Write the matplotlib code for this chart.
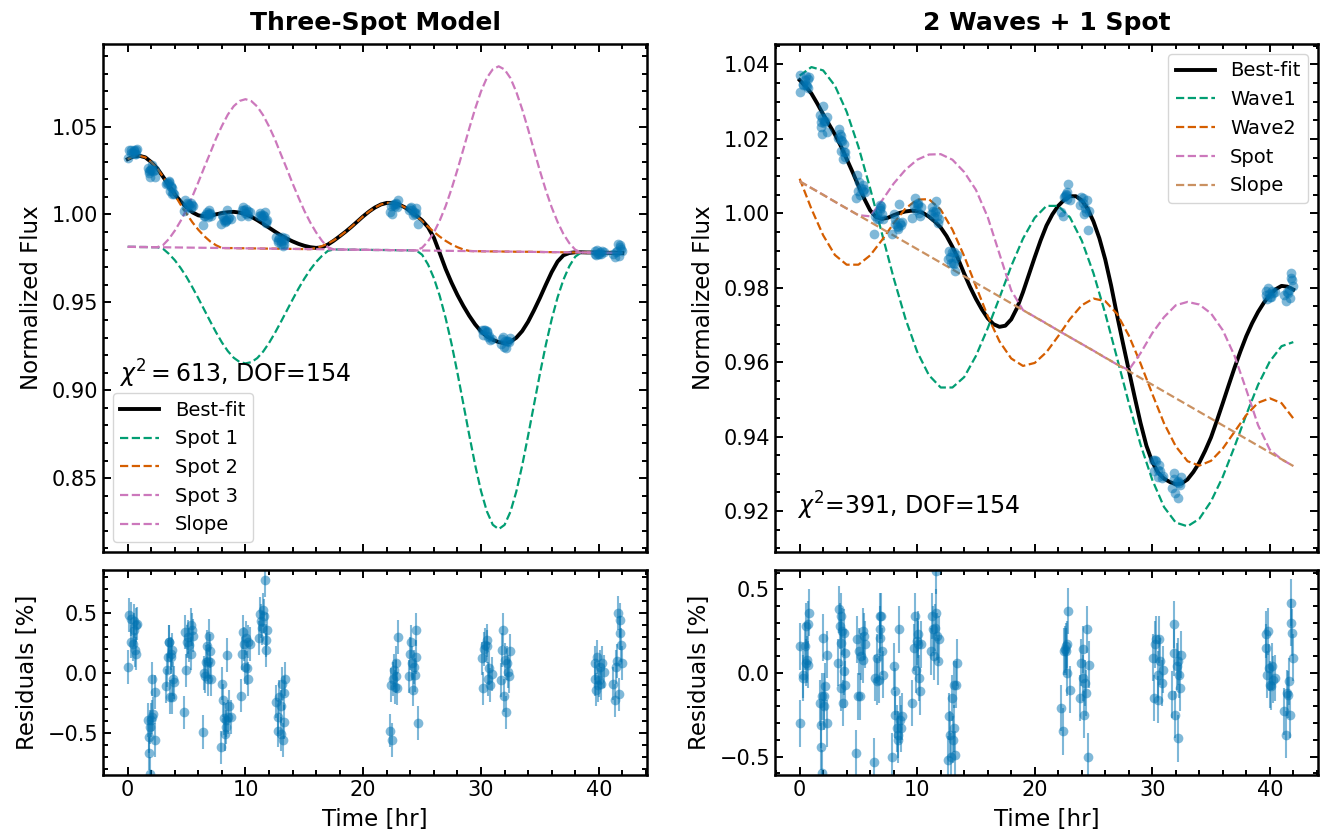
import numpy as np
import matplotlib
matplotlib.use("Agg")
import matplotlib.pyplot as plt
from matplotlib.ticker import AutoMinorLocator

# colours (seaborn "colorblind")
BLUE = "#0173b2"
GREEN = "#029e73"
ORANGE = "#d55e00"
PINK = "#cc78bc"
BROWN = "#ca9161"

# model curves: sharp ones read every half hour, broad waves every hour
fine_time = np.arange(0, 42.5, 0.5)
hour_time = np.arange(0, 43)
slope_time = [0, 42]

# ---- Three-Spot Model (left), half-hour grid ----
fit3_best = [
    1.0315, 1.0331, 1.0334, 1.0325, 1.0298, 1.0263, 1.0215, 1.0166, 1.0114, 1.0074,
    1.0040, 1.0012, 0.9995, 0.9990, 0.9993, 1.0001, 1.0008, 1.0013, 1.0015, 1.0011,
    1.0002, 0.9987, 0.9968, 0.9947, 0.9925, 0.9903, 0.9882, 0.9863, 0.9847, 0.9833,
    0.9822, 0.9814, 0.9810, 0.9813, 0.9829, 0.9851, 0.9876, 0.9902, 0.9930, 0.9960,
    0.9990, 1.0017, 1.0040, 1.0057, 1.0066, 1.0066, 1.0058, 1.0042, 1.0020, 0.9994,
    0.9966, 0.9928, 0.9868, 0.9780, 0.9690, 0.9612, 0.9542, 0.9480, 0.9424, 0.9375,
    0.9335, 0.9306, 0.9287, 0.9274, 0.9268, 0.9276, 0.9299, 0.9337, 0.9390, 0.9455,
    0.9525, 0.9600, 0.9672, 0.9732, 0.9768, 0.9781, 0.9785, 0.9785, 0.9784, 0.9784,
    0.9783, 0.9783, 0.9782, 0.9782, 0.9781]
fit3_spot1 = [
    0.9816, 0.9816, 0.9815, 0.9815, 0.9814, 0.9814, 0.9805, 0.9776, 0.9740, 0.9695,
    0.9644, 0.9585, 0.9523, 0.9458, 0.9393, 0.9330, 0.9272, 0.9223, 0.9185, 0.9161,
    0.9153, 0.9160, 0.9183, 0.9220, 0.9269, 0.9326, 0.9388, 0.9452, 0.9516, 0.9578,
    0.9635, 0.9686, 0.9730, 0.9765, 0.9793, 0.9801, 0.9801, 0.9800, 0.9800, 0.9800,
    0.9799, 0.9799, 0.9798, 0.9798, 0.9798, 0.9797, 0.9797, 0.9796, 0.9796, 0.9796,
    0.9771, 0.9716, 0.9638, 0.9536, 0.9410, 0.9264, 0.9099, 0.8923, 0.8746, 0.8576,
    0.8427, 0.8311, 0.8235, 0.8210, 0.8234, 0.8309, 0.8424, 0.8573, 0.8742, 0.8918,
    0.9093, 0.9257, 0.9403, 0.9528, 0.9629, 0.9706, 0.9760, 0.9784, 0.9784, 0.9784,
    0.9783, 0.9783, 0.9782, 0.9782, 0.9781]
fit3_spot2 = [
    1.0315, 1.0331, 1.0334, 1.0325, 1.0298, 1.0263, 1.0215, 1.0166, 1.0111, 1.0055,
    1.0004, 0.9955, 0.9913, 0.9877, 0.9847, 0.9825, 0.9809, 0.9809, 0.9809, 0.9808,
    0.9808, 0.9807, 0.9807, 0.9806, 0.9806, 0.9806, 0.9805, 0.9805, 0.9804, 0.9804,
    0.9803, 0.9803, 0.9810, 0.9820, 0.9835, 0.9853, 0.9876, 0.9902, 0.9930, 0.9960,
    0.9990, 1.0017, 1.0040, 1.0057, 1.0066, 1.0066, 1.0058, 1.0042, 1.0019, 0.9992,
    0.9962, 0.9931, 0.9901, 0.9874, 0.9850, 0.9830, 0.9814, 0.9801, 0.9793, 0.9791,
    0.9791, 0.9790, 0.9790, 0.9790, 0.9789, 0.9789, 0.9788, 0.9788, 0.9788, 0.9787,
    0.9787, 0.9786, 0.9786, 0.9786, 0.9785, 0.9785, 0.9784, 0.9784, 0.9784, 0.9783,
    0.9783, 0.9782, 0.9782, 0.9782, 0.9781]
fit3_spot3 = [
    0.9816, 0.9816, 0.9815, 0.9815, 0.9814, 0.9814, 0.9826, 0.9861, 0.9908, 0.9964,
    1.0030, 1.0104, 1.0184, 1.0268, 1.0349, 1.0432, 1.0504, 1.0568, 1.0616, 1.0646,
    1.0656, 1.0645, 1.0614, 1.0565, 1.0501, 1.0428, 1.0344, 1.0262, 1.0177, 1.0097,
    1.0021, 0.9955, 0.9898, 0.9850, 0.9814, 0.9801, 0.9801, 0.9800, 0.9800, 0.9800,
    0.9799, 0.9799, 0.9798, 0.9798, 0.9798, 0.9797, 0.9797, 0.9796, 0.9796, 0.9796,
    0.9811, 0.9847, 0.9898, 0.9966, 1.0048, 1.0146, 1.0255, 1.0371, 1.0489, 1.0601,
    1.0700, 1.0778, 1.0826, 1.0843, 1.0825, 1.0776, 1.0697, 1.0598, 1.0485, 1.0366,
    1.0249, 1.0139, 1.0041, 0.9958, 0.9889, 0.9837, 0.9800, 0.9784, 0.9784, 0.9784,
    0.9783, 0.9783, 0.9782, 0.9782, 0.9781]
fit3_slope = [0.9816, 0.9781]

# ---- 2 Waves + 1 Spot (right) ----
fitw_best = [  # half-hour grid
    1.0358, 1.0341, 1.0322, 1.0295, 1.0266, 1.0239, 1.0212, 1.0181, 1.0146, 1.0111,
    1.0074, 1.0039, 1.0008, 0.9990, 0.9985, 0.9988, 0.9995, 1.0001, 1.0005, 1.0007,
    1.0006, 1.0001, 0.9991, 0.9978, 0.9962, 0.9939, 0.9910, 0.9876, 0.9838, 0.9802,
    0.9770, 0.9742, 0.9718, 0.9702, 0.9695, 0.9698, 0.9715, 0.9746, 0.9788, 0.9835,
    0.9882, 0.9927, 0.9967, 0.9997, 1.0020, 1.0036, 1.0046, 1.0046, 1.0035, 1.0012,
    0.9978, 0.9933, 0.9876, 0.9806, 0.9727, 0.9652, 0.9579, 0.9507, 0.9437, 0.9376,
    0.9332, 0.9303, 0.9287, 0.9278, 0.9272, 0.9274, 0.9285, 0.9305, 0.9330, 0.9362,
    0.9398, 0.9443, 0.9490, 0.9538, 0.9585, 0.9629, 0.9670, 0.9705, 0.9735, 0.9760,
    0.9780, 0.9796, 0.9805, 0.9803, 0.9795]
fitw_wave1 = [  # hourly grid
    1.0370, 1.0393, 1.0384, 1.0343, 1.0273, 1.0179, 1.0067, 0.9946, 0.9826, 0.9717,
    0.9628, 0.9565, 0.9532, 0.9532, 0.9560, 0.9617, 0.9691, 0.9773, 0.9858, 0.9932,
    0.9988, 1.0020, 1.0020, 0.9989, 0.9927, 0.9839, 0.9731, 0.9612, 0.9491, 0.9379,
    0.9284, 0.9211, 0.9169, 0.9159, 0.9179, 0.9226, 0.9292, 0.9373, 0.9459, 0.9539,
    0.9602, 0.9643, 0.9654]
fitw_wave2 = [
    1.0093, 1.0012, 0.9941, 0.9888, 0.9862, 0.9862, 0.9887, 0.9928, 0.9973, 1.0013,
    1.0037, 1.0038, 1.0010, 0.9956, 0.9885, 0.9804, 0.9724, 0.9656, 0.9610, 0.9590,
    0.9598, 0.9627, 0.9670, 0.9716, 0.9753, 0.9771, 0.9764, 0.9730, 0.9672, 0.9597,
    0.9515, 0.9436, 0.9374, 0.9334, 0.9322, 0.9335, 0.9368, 0.9413, 0.9458, 0.9491,
    0.9503, 0.9490, 0.9449]
fitw_spot = [
    1.0086, 1.0068, 1.0050, 1.0031, 1.0013, 0.9995, 0.9992, 1.0034, 1.0080, 1.0117,
    1.0144, 1.0158, 1.0159, 1.0144, 1.0111, 1.0063, 0.9990, 0.9891, 0.9793, 0.9740,
    0.9722, 0.9704, 0.9685, 0.9667, 0.9649, 0.9631, 0.9612, 0.9594, 0.9579, 0.9624,
    0.9678, 0.9721, 0.9753, 0.9762, 0.9755, 0.9731, 0.9686, 0.9617, 0.9526, 0.9431,
    0.9365, 0.9339, 0.9321]
fitw_slope = [1.0086, 0.9321]

# ---- observations (same epochs in both panels) ----
obs_time = [
    0.00, 0.07, 0.25, 0.25, 0.44, 0.51, 0.51, 0.62, 0.69, 0.73, 0.80,
    1.71, 1.82, 1.82, 1.89, 1.93, 1.96, 2.07, 2.07, 2.18, 2.33, 2.33,
    3.24, 3.35, 3.42, 3.49, 3.53, 3.56, 3.64, 3.71, 3.75, 3.78, 3.82, 3.89,
    4.80, 4.87, 4.98, 5.05, 5.16, 5.24, 5.35, 5.35, 5.45, 5.53,
    6.36, 6.44, 6.55, 6.62, 6.73, 6.80, 6.80, 6.87, 6.95, 6.98, 7.09,
    7.89, 8.00, 8.07, 8.15, 8.25, 8.33, 8.36, 8.44, 8.51, 8.62, 8.73,
    9.60, 9.71, 9.78, 9.89, 9.96, 10.04, 10.11, 10.18, 10.25, 10.36,
    11.16, 11.27, 11.35, 11.42, 11.53, 11.60, 11.64, 11.71, 11.78, 11.85,
    12.62, 12.73, 12.80, 12.87, 12.98, 13.05, 13.09, 13.16, 13.24, 13.31, 13.38,
    22.25, 22.40, 22.47, 22.55, 22.62, 22.69, 22.76, 22.76, 22.87, 22.98,
    23.85, 23.96, 24.07, 24.15, 24.22, 24.29, 24.36, 24.44, 24.51, 24.62,
    30.07, 30.18, 30.25, 30.36, 30.47, 30.51, 30.58, 30.69, 30.80, 30.91,
    31.71, 31.82, 31.89, 31.96, 32.07, 32.15, 32.22, 32.29, 32.36, 32.44,
    39.64, 39.71, 39.78, 39.85, 39.93, 40.00, 40.07, 40.18, 40.29, 40.44,
    41.24, 41.35, 41.45, 41.53, 41.64, 41.71, 41.78, 41.82, 41.89, 41.96,
]

flux3 = [
    1.0324, 1.0367, 1.0367, 1.0348, 1.0349, 1.0362, 1.0369, 1.0347, 1.0368, 1.0345, 1.0372,
    1.0267, 1.0249, 1.0235, 1.0215, 1.0253, 1.0258, 1.0284, 1.0252, 1.0246, 1.0251, 1.0211,
    1.0175, 1.0178, 1.0182, 1.0188, 1.0184, 1.0135, 1.0160, 1.0156, 1.0116, 1.0153, 1.0125, 1.0115,
    1.0021, 1.0083, 1.0043, 1.0064, 1.0062, 1.0052, 1.0063, 1.0039, 1.0054, 1.0046,
    0.9943, 0.9992, 0.9989, 1.0001, 1.0014, 0.9987, 1.0002, 1.0024, 1.0011, 1.0002, 0.9989,
    0.9945, 0.9999, 0.9985, 0.9970, 0.9958, 0.9964, 0.9970, 1.0026, 0.9975, 0.9985, 0.9976,
    0.9991, 1.0023, 1.0040, 1.0028, 1.0008, 1.0030, 1.0002, 0.9991, 1.0019, 1.0013,
    0.9990, 1.0006, 0.9996, 0.9987, 0.9997, 0.9989, 1.0017, 0.9965, 0.9954, 0.9968,
    0.9874, 0.9845, 0.9853, 0.9867, 0.9832, 0.9852, 0.9870, 0.9820, 0.9857, 0.9830, 0.9864,
    1.0013, 1.0050, 1.0004, 1.0055, 1.0062, 1.0048, 1.0067, 1.0057, 1.0045, 1.0085,
    1.0024, 1.0039, 1.0045, 1.0023, 0.9997, 1.0012, 1.0001, 1.0035, 1.0008, 0.9947,
    0.9344, 0.9313, 0.9343, 0.9341, 0.9339, 0.9333, 0.9302, 0.9306, 0.9287, 0.9290,
    0.9266, 0.9289, 0.9305, 0.9249, 0.9280, 0.9240, 0.9283, 0.9278, 0.9276, 0.9299,
    0.9778, 0.9791, 0.9769, 0.9796, 0.9773, 0.9777, 0.9788, 0.9774, 0.9791, 0.9784,
    0.9773, 0.9759, 0.9787, 0.9792, 0.9832, 0.9764, 0.9815, 0.9826, 0.9805, 0.9790,
]
resid3 = [
    0.05, 0.48, 0.45, 0.26, 0.24, 0.36, 0.43, 0.19, 0.40, 0.16, 0.41,
    -0.39, -0.53, -0.67, -0.84, -0.45, -0.39, -0.05, -0.37, -0.34, -0.16, -0.56,
    -0.11, 0.02, 0.13, 0.26, 0.26, -0.20, 0.13, 0.16, -0.20, 0.19, -0.05, -0.08,
    -0.33, 0.34, 0.02, 0.26, 0.30, 0.23, 0.40, 0.16, 0.36, 0.31,
    -0.49, 0.00, -0.03, 0.09, 0.22, -0.05, 0.10, 0.31, 0.18, 0.09, -0.05,
    -0.62, -0.09, -0.23, -0.38, -0.51, -0.45, -0.39, 0.15, -0.37, -0.28, -0.37,
    -0.19, 0.16, 0.34, 0.24, 0.05, 0.29, 0.04, -0.05, 0.26, 0.24,
    0.29, 0.49, 0.43, 0.37, 0.52, 0.47, 0.77, 0.27, 0.19, 0.36,
    -0.24, -0.48, -0.37, -0.20, -0.51, -0.28, -0.09, -0.56, -0.17, -0.41, -0.05,
    -0.48, -0.10, -0.56, -0.05, 0.02, -0.12, 0.08, -0.03, -0.13, 0.30,
    -0.03, 0.16, 0.26, 0.08, -0.14, 0.05, -0.02, 0.36, 0.13, -0.42,
    0.12, -0.13, 0.20, 0.23, 0.27, 0.22, -0.05, 0.04, -0.10, -0.01,
    -0.06, 0.19, 0.36, -0.19, 0.11, -0.33, 0.08, 0.01, -0.03, 0.18,
    -0.05, 0.08, -0.14, 0.13, -0.10, -0.06, 0.05, -0.09, 0.08, 0.01,
    -0.09, -0.23, 0.05, 0.10, 0.50, -0.18, 0.33, 0.44, 0.23, 0.08,
]

fluxw = [
    1.0327, 1.0371, 1.0347, 1.0345, 1.0358, 1.0346, 1.0368, 1.0343, 1.0338, 1.0360, 1.0365,
    1.0265, 1.0245, 1.0232, 1.0212, 1.0256, 1.0289, 1.0242, 1.0248, 1.0248, 1.0218, 1.0259,
    1.0202, 1.0227, 1.0212, 1.0198, 1.0168, 1.0209, 1.0195, 1.0147, 1.0164, 1.0185, 1.0151, 1.0165,
    1.0040, 1.0103, 1.0061, 1.0084, 1.0049, 1.0068, 1.0059, 1.0076, 1.0066, 1.0056,
    0.9945, 0.9993, 1.0002, 0.9986, 0.9985, 1.0009, 1.0022, 1.0013, 1.0020, 0.9998, 0.9985,
    0.9944, 0.9999, 0.9985, 0.9972, 0.9965, 0.9962, 0.9959, 1.0026, 0.9973, 0.9969, 0.9977,
    0.9988, 1.0021, 1.0040, 1.0008, 1.0025, 1.0029, 1.0022, 1.0001, 0.9992, 1.0018,
    0.9999, 1.0017, 1.0007, 0.9989, 1.0003, 1.0010, 1.0033, 0.9992, 0.9975, 0.9986,
    0.9878, 0.9898, 0.9883, 0.9867, 0.9896, 0.9866, 0.9897, 0.9865, 0.9844, 0.9881, 0.9889,
    1.0003, 0.9993, 1.0043, 1.0047, 1.0051, 1.0050, 1.0056, 1.0039, 1.0079, 1.0035,
    1.0023, 1.0043, 1.0029, 1.0041, 0.9998, 1.0013, 1.0003, 1.0036, 0.9956, 1.0005,
    0.9336, 0.9307, 0.9336, 0.9335, 0.9309, 0.9292, 0.9325, 0.9307, 0.9290, 0.9293,
    0.9263, 0.9287, 0.9303, 0.9248, 0.9277, 0.9235, 0.9282, 0.9276, 0.9269, 0.9291,
    0.9780, 0.9791, 0.9771, 0.9800, 0.9782, 0.9775, 0.9776, 0.9790, 0.9785, 0.9789,
    0.9780, 0.9765, 0.9789, 0.9787, 0.9794, 0.9773, 0.9839, 0.9827, 0.9820, 0.9804,
]
residw = [
    -0.30, 0.16, -0.01, -0.03, 0.16, 0.06, 0.28, 0.08, 0.05, 0.29, 0.36,
    -0.18, -0.31, -0.44, -0.60, -0.14, 0.21, -0.20, -0.14, -0.08, -0.30, 0.11,
    0.06, 0.38, 0.28, 0.18, -0.09, 0.34, 0.25, -0.18, 0.01, 0.24, -0.07, 0.12,
    -0.48, 0.20, -0.14, 0.13, -0.14, 0.10, 0.08, 0.25, 0.22, 0.17,
    -0.53, -0.03, 0.09, -0.05, -0.04, 0.21, 0.34, 0.26, 0.34, 0.13, -0.01,
    -0.50, 0.04, -0.11, -0.25, -0.33, -0.37, -0.40, 0.26, -0.28, -0.33, -0.26,
    -0.18, 0.15, 0.34, 0.02, 0.19, 0.23, 0.17, -0.03, -0.11, 0.17,
    0.13, 0.34, 0.26, 0.10, 0.27, 0.36, 0.61, 0.22, 0.07, 0.20,
    -0.52, -0.26, -0.37, -0.50, -0.15, -0.40, -0.07, -0.33, -0.49, -0.07, 0.06,
    -0.21, -0.35, 0.13, 0.14, 0.16, 0.13, 0.17, 0.00, 0.37, -0.10,
    -0.15, 0.06, -0.03, 0.14, -0.25, -0.06, -0.12, 0.26, -0.50, 0.05,
    0.09, -0.15, 0.17, 0.20, -0.01, -0.16, 0.20, 0.07, -0.06, 0.02,
    -0.13, 0.12, 0.29, -0.25, 0.04, -0.39, 0.07, -0.01, -0.09, 0.11,
    0.15, 0.23, -0.01, 0.25, 0.03, -0.07, -0.08, 0.04, -0.04, -0.03,
    -0.23, -0.37, -0.12, -0.13, -0.05, -0.25, 0.42, 0.30, 0.24, 0.09,
]
resid_err = 0.14  # per-point uncertainty, in %

plt.rcParams["font.family"] = ["DejaVu Sans"]
plt.rcParams["xtick.labelsize"] = 15
plt.rcParams["ytick.labelsize"] = 15
plt.rcParams["axes.labelsize"] = 16.5
plt.rcParams["axes.labelpad"] = 6


def style_axes(ax):
    ax.xaxis.set_minor_locator(AutoMinorLocator())
    ax.yaxis.set_minor_locator(AutoMinorLocator())
    ax.tick_params(which="both", direction="in", top=True, right=True, width=1.4)
    ax.tick_params(which="major", length=6)
    ax.tick_params(which="minor", length=3.5)
    for sp in ax.spines.values():
        sp.set_linewidth(1.8)


def pick_x(values):
    if len(values) == 2:
        return slope_time
    if len(values) == len(fine_time):
        return fine_time
    return hour_time


def draw_model(ax, curves, flux, ylim, title):
    label, values, color = curves[0]
    ax.plot(pick_x(values), values, color=color, lw=2.8, label=label,
            solid_joinstyle="round")
    for label, values, color in curves[1:]:
        ax.plot(pick_x(values), values, color=color, lw=1.6, ls="--", label=label)
    ax.plot(obs_time, flux, "o", color=BLUE, alpha=0.5, ms=7, mew=0, zorder=5)
    ax.set_ylim(*ylim)
    ax.set_ylabel("Normalized Flux")
    ax.set_title(title, fontsize=18, fontweight="bold", pad=10)
    ax.tick_params(labelbottom=False)
    style_axes(ax)


def draw_resid(ax, resid, ylim):
    ax.errorbar(obs_time, resid, yerr=resid_err, fmt="o", color=BLUE, alpha=0.5,
                ms=7, mew=0, elinewidth=1.5, capsize=0)
    ax.set_ylim(*ylim)
    ax.set_xlabel("Time [hr]")
    ax.set_ylabel("Residuals [%]")
    style_axes(ax)


fig = plt.figure(figsize=(13.27, 8.38), dpi=100)
ax_lt = fig.add_axes([0.0776, 0.3413, 0.4100, 0.6062])
ax_lb = fig.add_axes([0.0776, 0.0752, 0.4100, 0.2446], sharex=ax_lt)
ax_rt = fig.add_axes([0.5840, 0.3413, 0.4092, 0.6062])
ax_rb = fig.add_axes([0.5840, 0.0752, 0.4092, 0.2446], sharex=ax_rt)

draw_model(ax_lt,
           [("Best-fit", fit3_best, "black"),
            ("Spot 1", fit3_spot1, GREEN),
            ("Spot 2", fit3_spot2, ORANGE),
            ("Spot 3", fit3_spot3, PINK),
            ("Slope", fit3_slope, PINK)],
           flux3, (0.808, 1.097), "Three-Spot Model")
ax_lt.text(0.03, 0.35, r"$\chi^2 = 613$, DOF=154", transform=ax_lt.transAxes,
           fontsize=17, va="center")
ax_lt.legend(loc="lower left", fontsize=14)

draw_model(ax_rt,
           [("Best-fit", fitw_best, "black"),
            ("Wave1", fitw_wave1, GREEN),
            ("Wave2", fitw_wave2, ORANGE),
            ("Spot", fitw_spot, PINK),
            ("Slope", fitw_slope, BROWN)],
           fluxw, (0.909, 1.0455), "2 Waves + 1 Spot")
ax_rt.text(0.04, 0.09, r"$\chi^2$=391, DOF=154", transform=ax_rt.transAxes,
           fontsize=17, va="center")
ax_rt.legend(loc="upper right", fontsize=14)

draw_resid(ax_lb, resid3, (-0.85, 0.855))
draw_resid(ax_rb, residw, (-0.61, 0.615))

fig.align_ylabels([ax_lt, ax_lb])
fig.align_ylabels([ax_rt, ax_rb])

fig.savefig("out.png", dpi=100)
